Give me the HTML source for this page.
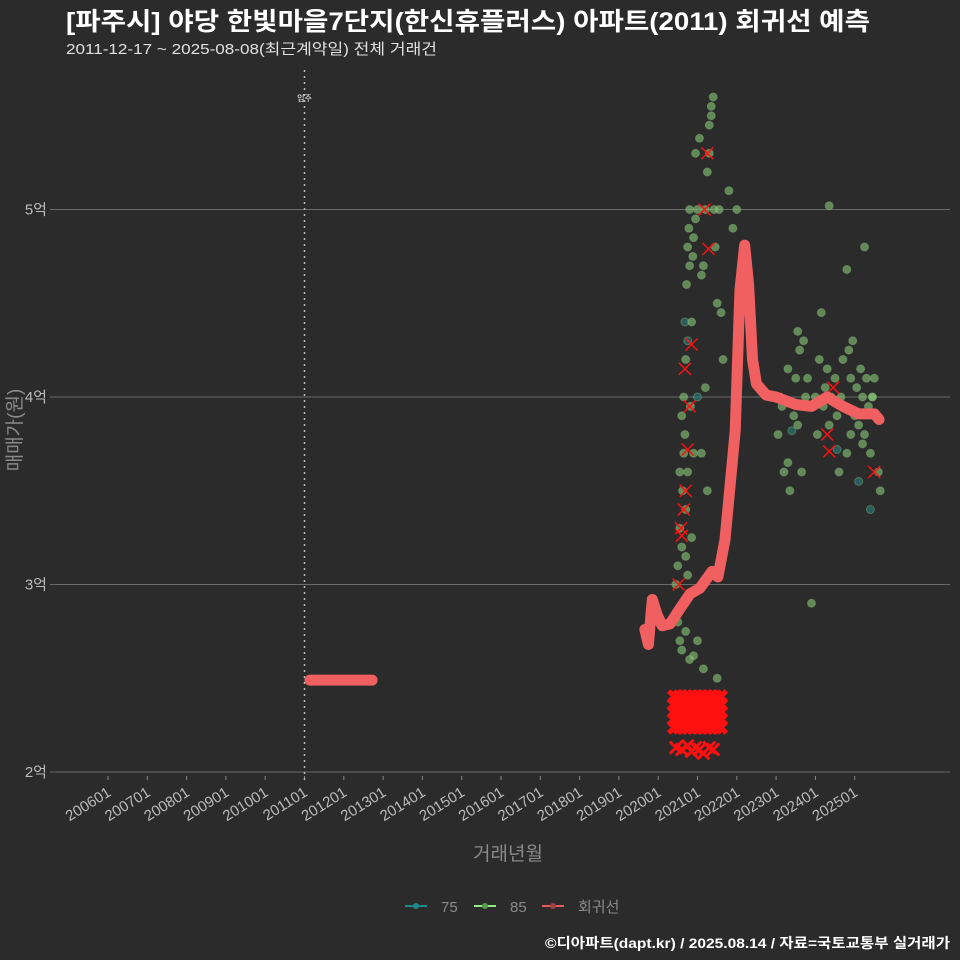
<!DOCTYPE html>
<html><head><meta charset="utf-8"><style>
body{margin:0;background:#2b2b2b;}
svg{display:block;font-family:"Liberation Sans","Noto Sans CJK KR",sans-serif;}
</style></head><body>
<svg id="c" width="960" height="960" viewBox="0 0 960 960">
<rect width="960" height="960" fill="#2b2b2b"/>
<text x="66" y="30" fill="#ffffff" font-size="25" font-weight="bold" textLength="804" lengthAdjust="spacingAndGlyphs">[파주시] 야당 한빛마을7단지(한신휴플러스) 아파트(2011) 회귀선 예측</text>
<text x="66" y="54" fill="#e0e0e0" font-size="15" textLength="371" lengthAdjust="spacingAndGlyphs">2011-12-17 ~ 2025-08-08(최근계약일) 전체 거래건</text>
<g id="grid"></g><g id="marks"></g>
<text transform="translate(21,430) rotate(-90)" text-anchor="middle" fill="#8a8a8a" font-size="19">매매가(원)</text>
<text x="508" y="860" text-anchor="middle" fill="#8a8a8a" font-size="19">거래년월</text>
<g font-size="15" fill="#8a8a8a">
<g><line x1="405" y1="906" x2="427" y2="906" stroke="#1f8a8a" stroke-width="2"/><circle cx="416" cy="906" r="3" fill="#1f8a8a"/><text x="441" y="912">75</text></g>
<g><line x1="474" y1="906" x2="496" y2="906" stroke="#90ee80" stroke-width="2"/><circle cx="485" cy="906" r="3" fill="#5c9a50"/><text x="510" y="912">85</text></g>
<g><line x1="542" y1="906" x2="564" y2="906" stroke="#e85a5a" stroke-width="2"/><circle cx="553" cy="906" r="3" fill="#a04040"/><text x="578" y="912">회귀선</text></g>
</g>
<text x="950" y="948" text-anchor="end" fill="#ffffff" font-size="14" font-weight="bold" textLength="405" lengthAdjust="spacingAndGlyphs">©디아파트(dapt.kr) / 2025.08.14 / 자료=국토교통부 실거래가</text>
</svg>
<script>
const yTicks=[2,3,4,5];
const yTickLabels=["2억","3억","4억","5억"];
const xTicks=[2006,2007,2008,2009,2010,2011,2012,2013,2014,2015,2016,2017,2018,2019,2020,2021,2022,2023,2024,2025];
const xTickLabels=["200601","200701","200801","200901","201001","201101","201201","201301","201401","201501","201601","201701","201801","201901","202001","202101","202201","202301","202401","202501"];
const moveInYear=[2011];
const regYears=[2019.66,2019.75,2019.85,2019.97,2020.1,2020.3,2020.55,2020.81,2021.06,2021.37,2021.52,2021.7,2021.96,2022.08,2022.2,2022.3,2022.4,2022.5,2022.75,2023.0,2023.25,2023.5,2023.9,2024.3,2024.7,2025.1,2025.5,2025.62];
const regPrices=[2.76,2.68,2.92,2.84,2.78,2.79,2.87,2.95,2.98,3.07,3.04,3.24,3.82,4.57,4.81,4.6,4.2,4.07,4.01,4.0,3.98,3.96,3.95,4.0,3.95,3.91,3.91,3.88];
const reg2Years=[2011.14,2012.72];
const reg2Prices=[2.49,2.49];
const s75Years=[2020.68,2020.75,2021.0,2023.4,2024.55,2025.4,2025.1];
const s75Prices=[4.4,4.3,4.0,3.82,3.72,3.4,3.55];
const s85Years=[2020.45,2020.5,2020.5,2020.55,2020.55,2020.6,2020.6,2020.62,2020.65,2020.65,2020.68,2020.7,2020.7,2020.72,2020.75,2020.75,2020.78,2020.8,2020.8,2020.82,2020.85,2020.85,2020.88,2020.9,2020.9,2020.95,2020.95,2021.0,2021.05,2021.1,2021.15,2021.2,2021.25,2021.3,2021.3,2021.35,2021.35,2021.4,2021.42,2021.45,2021.5,2021.55,2021.6,2021.65,2021.8,2021.9,2022.0,2022.3,2020.55,2020.6,2020.7,2020.8,2020.9,2021.0,2021.15,2021.5,2021.25,2020.7,2020.75,2021.1,2021.2,2023.05,2023.1,2023.2,2023.3,2023.35,2023.45,2023.5,2023.55,2023.6,2023.7,2023.75,2023.8,2023.9,2024.0,2024.05,2024.1,2024.2,2024.25,2024.3,2024.35,2024.4,2024.5,2024.55,2024.6,2024.65,2024.7,2024.8,2024.85,2024.9,2024.95,2025.0,2025.05,2025.1,2025.15,2025.2,2025.25,2025.3,2025.35,2025.4,2025.45,2025.5,2025.55,2025.6,2025.65,2023.55,2023.9,2024.35,2024.8,2025.25,2025.45,2023.3,2024.15,2024.9,2025.2,2023.15,2023.65];
const s85Prices=[3.0,3.1,2.8,3.3,3.6,3.2,3.9,3.5,3.7,4.0,3.8,4.2,3.4,4.6,4.8,3.6,4.9,5.0,4.7,3.95,4.4,3.25,4.75,4.85,3.7,4.95,5.3,5.0,5.38,4.65,4.7,5.0,5.2,5.3,5.45,5.5,5.55,5.6,5.0,4.8,4.5,5.0,4.45,4.2,5.1,4.9,5.0,4.6,2.7,2.65,2.75,2.6,2.62,2.7,2.55,2.5,3.5,3.15,3.05,3.7,4.05,3.8,4.0,3.6,4.15,3.5,3.9,4.1,3.85,4.25,4.3,4.0,4.1,3.95,4.0,3.8,4.2,3.95,4.05,4.15,3.85,4.0,4.1,3.9,3.6,4.0,4.2,3.7,4.25,4.1,4.3,3.9,4.05,3.85,4.15,4.0,3.8,4.1,3.95,3.7,4.0,4.1,3.9,3.6,3.5,4.35,2.9,5.02,4.68,4.8,4.0,3.65,4.45,3.8,3.75,3.95,3.6,3.85];
const xYears=[2020.52,2020.6,2020.7,2020.8,2020.85,2021.18,2021.25,2021.28,2020.65,2020.75,2024.3,2024.35,2024.45,2025.5,2020.68,2020.58];
const xPrices=[3.0,3.26,3.5,3.95,4.28,5.0,5.3,4.79,3.4,3.72,3.8,3.71,4.05,3.6,4.15,3.3];
const clusterYears=[2020.42,2020.55,2020.68,2020.8,2020.93,2021.06,2021.19,2021.32,2021.45,2021.58];
const clusterPrices=[2.24,2.28,2.32,2.36,2.4];
const lowYears=[2020.45,2020.6,2020.75,2020.85,2020.95,2021.05,2021.15,2021.3,2021.4];
const lowPrices=[2.13,2.12,2.14,2.11,2.13,2.12,2.1,2.13,2.12];

const X=y=>108+(y-2006)*39.3;
const Y=p=>772-(p-2)*187.5;
const NS="http://www.w3.org/2000/svg";
const grid=document.getElementById('grid'),marks=document.getElementById('marks');
function mk(tag,attrs,parent){const e=document.createElementNS(NS,tag);for(const k in attrs)e.setAttribute(k,attrs[k]);parent.appendChild(e);return e;}
yTicks.forEach((t,i)=>{
 const l=mk('line',{x1:50,x2:950,y1:Y(t),y2:Y(t),stroke:'#6a6a6a','stroke-width':1},grid);
 
 
 const tx=mk('text',{x:47,y:Y(t)+5,'text-anchor':'end',fill:'#bbbbbb','font-size':15},grid);
 tx.textContent=yTickLabels[i];
 
 
});
xTicks.forEach((t,i)=>{
 const l=mk('line',{x1:X(t),x2:X(t),y1:776,y2:780,stroke:'#888'},grid);
 
 
 const tx=mk('text',{transform:`translate(${X(t)+4},${795}) rotate(-32)`,'text-anchor':'end',fill:'#bbbbbb','font-size':15},grid);
 tx.textContent=xTickLabels[i];
 
 
});
moveInYear.forEach(t=>{
 const l=mk('line',{x1:X(t),x2:X(t),y1:70,y2:780,stroke:'#bbbbbb','stroke-dasharray':'2,4','stroke-width':1.5},grid);
 
 
 const tx=mk('text',{x:X(t),y:101,'text-anchor':'middle',fill:'#fff','font-size':8},grid);
 tx.textContent='입주';
 
 
});
function dot(y,p,fill,name){const c=mk('circle',{cx:X(y),cy:Y(p),r:4,fill:fill,'fill-opacity':0.6,stroke:'#7aaa70','stroke-opacity':0.5},marks);
 
 }
s75Years.forEach((y,i)=>dot(y,s75Prices[i],'#2a7f7f','point-75'));
s85Years.forEach((y,i)=>dot(y,s85Prices[i],'#88c878','point-85'));
function cross(y,p,w){const g=mk('path',{d:`M${X(y)-6},${Y(p)-6}L${X(y)+6},${Y(p)+6}M${X(y)-6},${Y(p)+6}L${X(y)+6},${Y(p)-6}`,stroke:'#ff1010','stroke-width':w,fill:'none'},marks);
 
 }
clusterYears.forEach(y=>clusterPrices.forEach(p=>{cross(y,p,5);}));
lowYears.forEach((y,i)=>cross(y,lowPrices[i],3));
xYears.forEach((y,i)=>cross(y,xPrices[i],1.5));
function line(ys,ps,name){const d=ys.map((y,i)=>(i?'L':'M')+X(y)+','+Y(ps[i])).join('');
 const p=mk('path',{d:d,stroke:'#f06060',fill:'none','stroke-width':11,'stroke-linecap':'round','stroke-linejoin':'round'},marks);
 
 }
line(regYears,regPrices,'regression-line');
line(reg2Years,reg2Prices,'regression-line-2012');
</script>
</body></html>
